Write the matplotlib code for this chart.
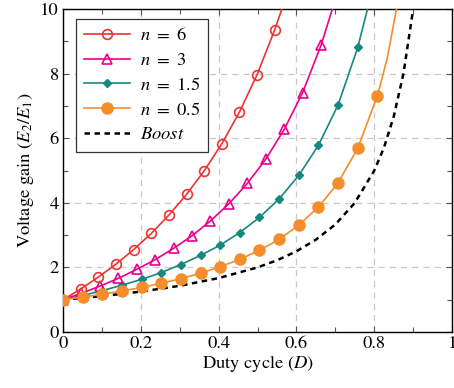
import matplotlib
matplotlib.use('Agg')
import matplotlib.pyplot as plt
from matplotlib.ticker import MultipleLocator

plt.rcParams['font.family'] = ['STIXGeneral', 'DejaVu Serif']
plt.rcParams['mathtext.fontset'] = 'stix'
plt.rcParams['font.size'] = 13.3

# values (last point of each list is where the line leaves the top)
d_n6 = [0, 0.0454, 0.0907, 0.1361, 0.1814, 0.2268, 0.2721, 0.3175, 0.3628,
        0.4082, 0.4535, 0.4989, 0.5442, 0.5625]
g_n6 = [1.0, 1.33, 1.70, 2.10, 2.55, 3.05, 3.62, 4.26, 4.99,
        5.83, 6.81, 7.97, 9.36, 10.0]

d_n3 = [0, 0.0474, 0.0947, 0.1421, 0.1895, 0.2369, 0.2842, 0.3316, 0.3790,
        0.4263, 0.4737, 0.5211, 0.5684, 0.6158, 0.6632, 0.6923]
g_n3 = [1.0, 1.20, 1.42, 1.66, 1.94, 2.24, 2.59, 2.98, 3.44,
        3.97, 4.60, 5.35, 6.27, 7.41, 8.88, 10.0]

d_n15 = [0, 0.0505, 0.1010, 0.1515, 0.2020, 0.2525, 0.3030, 0.3535, 0.4040,
         0.4545, 0.5050, 0.5555, 0.6060, 0.6565, 0.7070, 0.7575, 0.7826]
g_n15 = [1.0, 1.13, 1.28, 1.45, 1.63, 1.84, 2.09, 2.37, 2.69,
         3.08, 3.55, 4.12, 4.85, 5.78, 7.03, 8.81, 10.0]

d_n05 = [0, 0.0505, 0.1010, 0.1515, 0.2020, 0.2525, 0.3030, 0.3535, 0.4040,
         0.4545, 0.5050, 0.5555, 0.6060, 0.6565, 0.7070, 0.7575, 0.8080, 0.8330, 0.8571]
g_n05 = [1.0, 1.08, 1.17, 1.27, 1.38, 1.51, 1.65, 1.82, 2.02,
         2.25, 2.53, 2.87, 3.31, 3.87, 4.62, 5.69, 7.31, 8.46, 10.0]

d_boost = [0, 0.1, 0.2, 0.3, 0.4, 0.5, 0.55, 0.6, 0.65, 0.7, 0.75, 0.8,
           0.825, 0.85, 0.875, 0.9]
g_boost = [1.0, 1.11, 1.25, 1.43, 1.67, 2.0, 2.22, 2.5, 2.86, 3.33, 4.0, 5.0,
           5.71, 6.67, 8.0, 10.0]

fig = plt.figure(figsize=(4.54, 3.88), dpi=100)
ax = fig.add_axes([0.1388, 0.1443, 0.857, 0.8325])

ax.plot(d_n6, g_n6, color='#ee3333', lw=1.2, marker='o', ms=7, mfc='none', mew=1.2,
        markevery=list(range(len(d_n6) - 1)), label='$n\\ =\\ 6$', zorder=5)
ax.plot(d_n3, g_n3, color='#ec008c', lw=1.2, marker='^', ms=6.5, mfc='none', mew=1.2,
        markevery=list(range(len(d_n3) - 1)), label='$n\\ =\\ 3$', zorder=4)
ax.plot(d_n15, g_n15, color='#17877f', lw=1.2, marker='D', ms=4.5,
        markevery=list(range(len(d_n15) - 1)), label='$n\\ =\\ 1.5$', zorder=3)
ax.plot(d_n05, g_n05, color='#f58d2a', lw=1.2, marker='o', ms=8,
        markevery=list(range(len(d_n05) - 2)), label='$n\\ =\\ 0.5$', zorder=6)
ax.plot(d_boost, g_boost, color='black', lw=1.8, ls=(0, (2.2, 1.8)),
        label='$\\it{Boost}$', zorder=2)

ax.set_xlim(0, 1)
ax.set_ylim(0, 10)
ax.xaxis.set_minor_locator(MultipleLocator(0.1))
ax.yaxis.set_major_locator(MultipleLocator(2))
ax.yaxis.set_minor_locator(MultipleLocator(1))
ax.set_xticks([0, 0.2, 0.4, 0.6, 0.8, 1.0])
ax.set_xticklabels(['0', '0.2', '0.4', '0.6', '0.8', '1'])
ax.tick_params(which='both', direction='in', top=True, right=True, width=0.8, color='#555555')
ax.tick_params(which='major', length=4.5, pad=3)
ax.tick_params(which='minor', length=3.5)
ax.grid(True, which='major', ls=(0, (5, 4)), color='#c8c8c8', lw=0.9)
ax.set_axisbelow(True)
for s in ax.spines.values():
    s.set_linewidth(1.0)

ax.set_xlabel('Duty cycle $(D)$', labelpad=1)
ax.set_ylabel('Voltage gain $(E_2/E_1)$', labelpad=3)

leg = ax.legend(loc='upper left', bbox_to_anchor=(0.033, 0.969), borderaxespad=0,
                fancybox=False, edgecolor='#333333', framealpha=1, handlelength=2.5,
                borderpad=0.45, labelspacing=0.42, handletextpad=0.5)
leg.get_frame().set_linewidth(0.9)

fig.savefig('out.png', dpi=100)
